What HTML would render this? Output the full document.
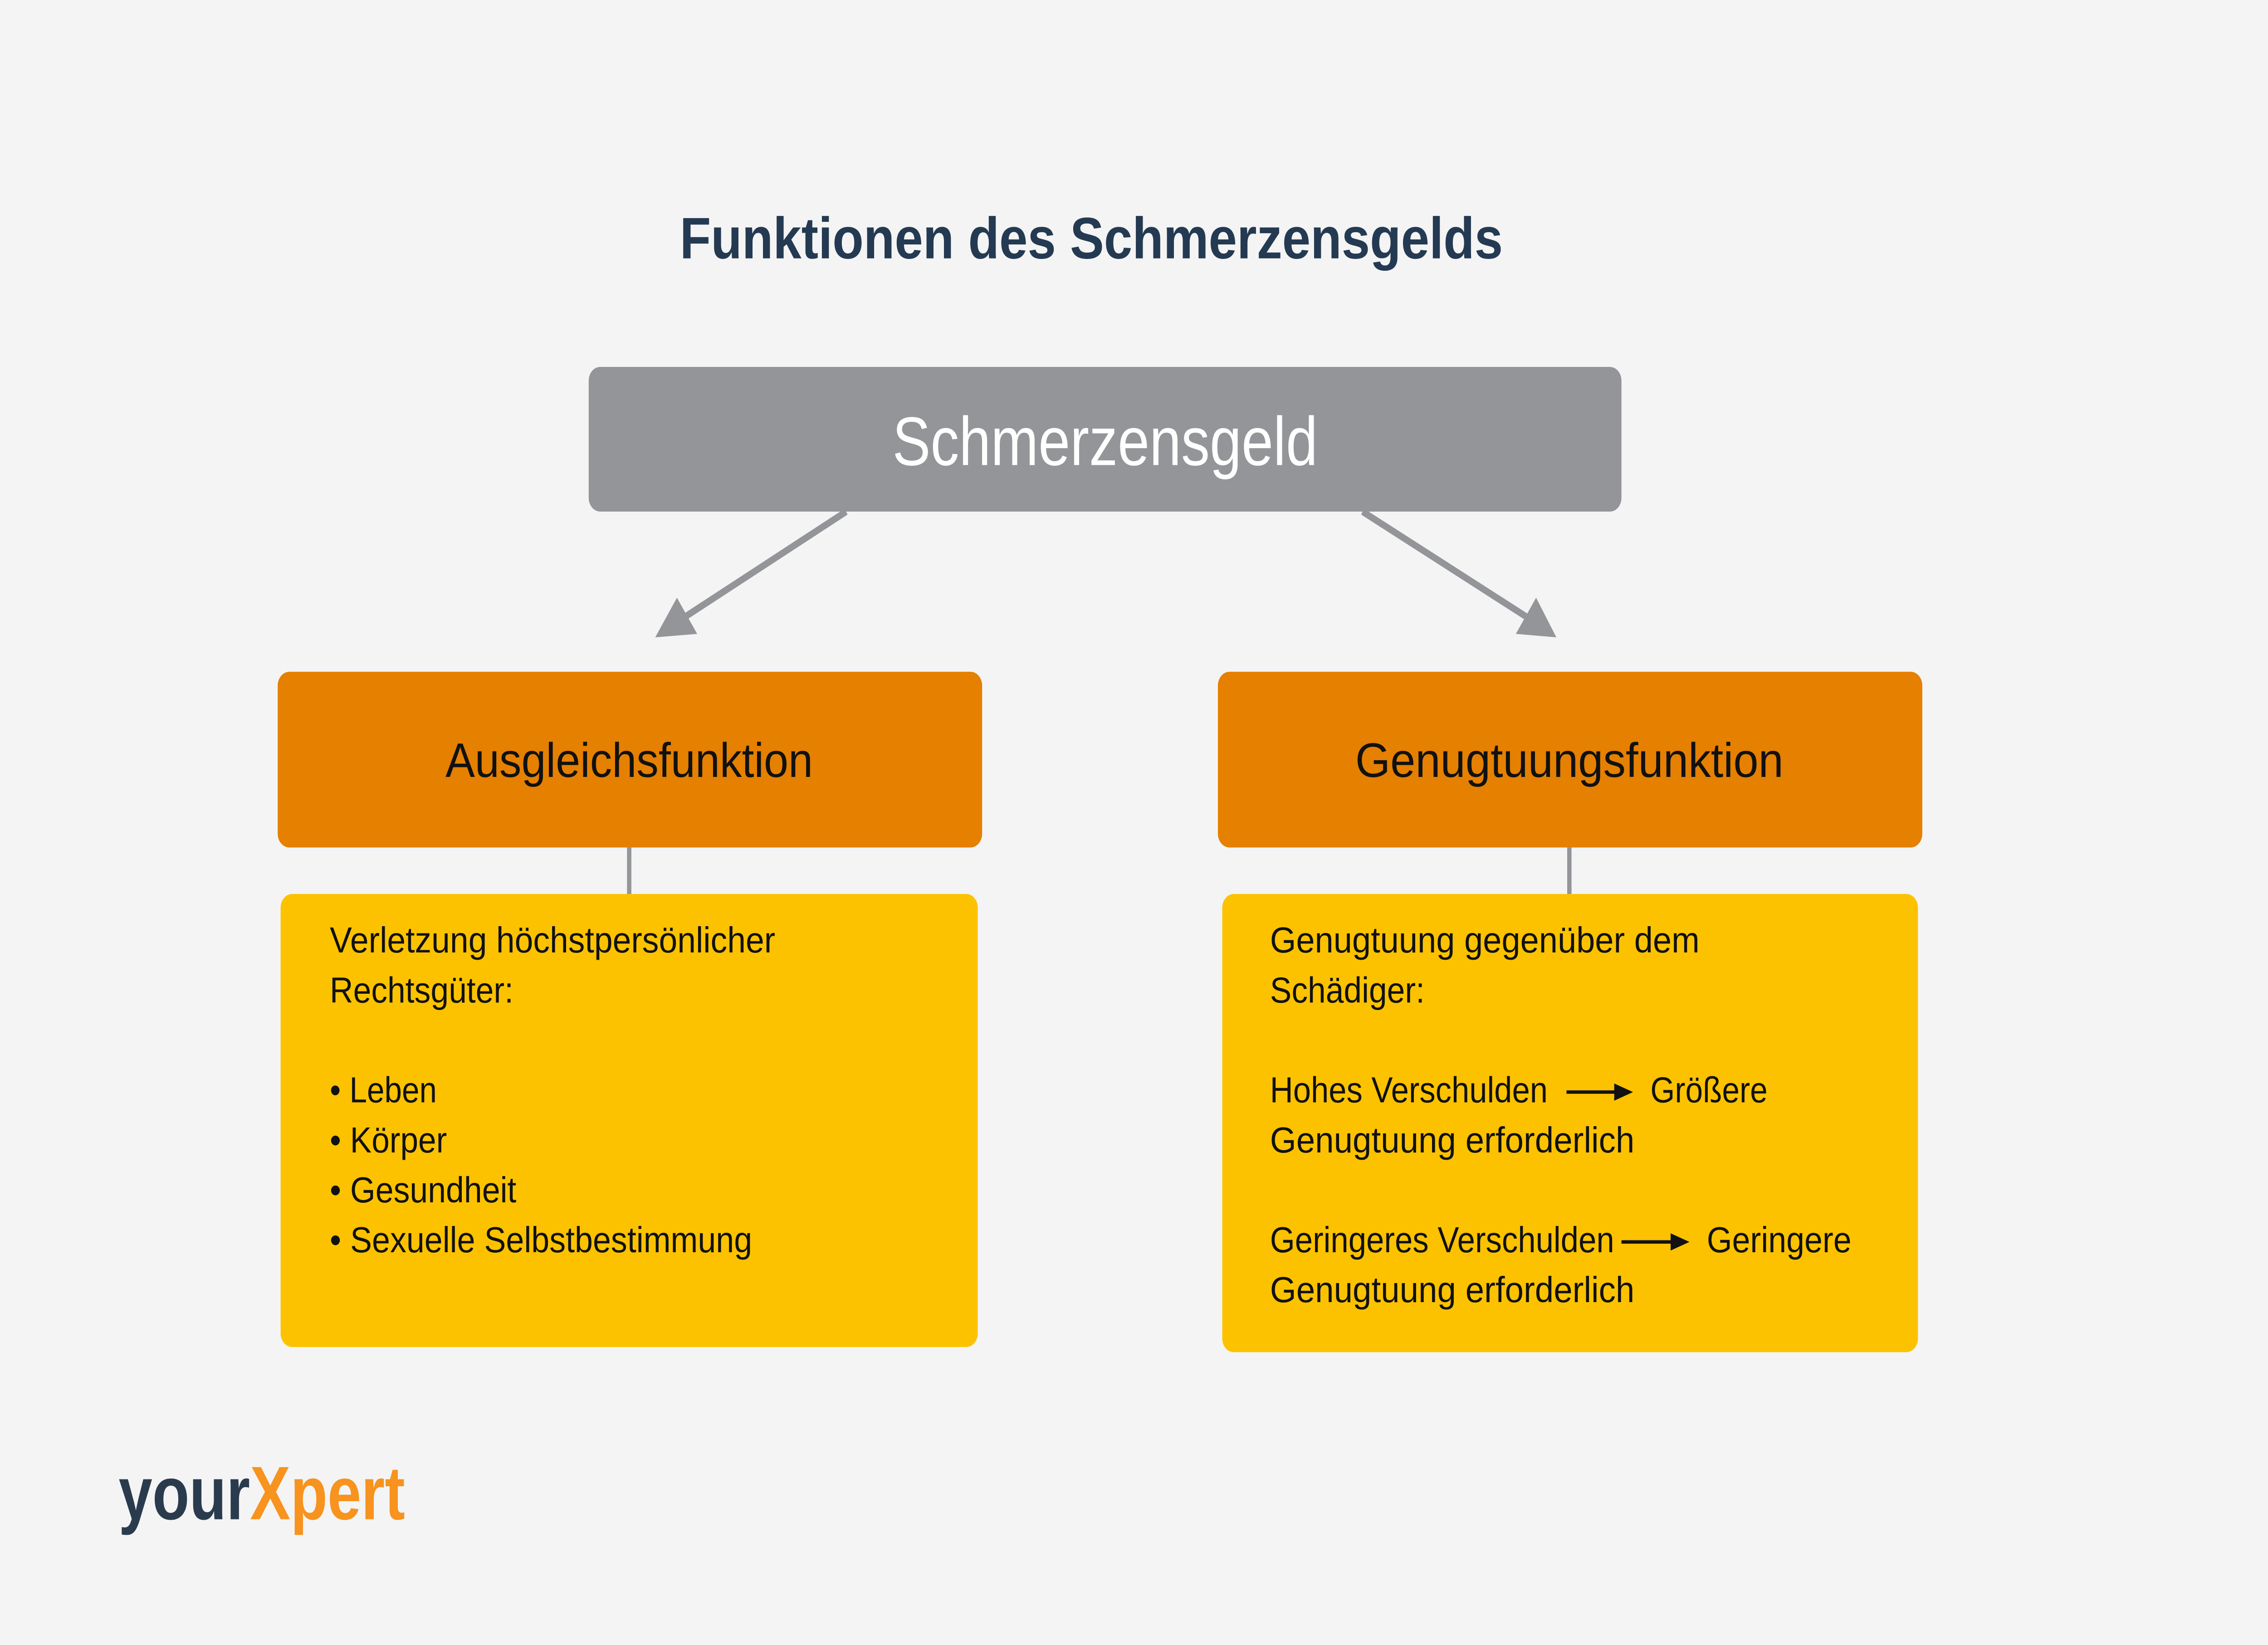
<!DOCTYPE html>
<html><head><meta charset="utf-8"><style>
html,body{margin:0;padding:0;background:#f4f4f4;width:100%;height:100%;overflow:hidden;}
svg{display:block;width:100vw;height:100vh;}
text{font-family:"Liberation Sans",sans-serif;}
</style></head><body>
<svg viewBox="0 0 1568 955" preserveAspectRatio="none" xmlns="http://www.w3.org/2000/svg">
<rect width="1568" height="955" fill="#f4f4f4"/>
<text x="470" y="150" font-size="34" font-weight="bold" fill="#243a52" textLength="569" lengthAdjust="spacingAndGlyphs">Funktionen des Schmerzensgelds</text>
<rect x="407" y="213" width="714" height="84" rx="8" fill="#939598"/>
<text x="617" y="270" font-size="40" fill="#ffffff" textLength="294" lengthAdjust="spacingAndGlyphs">Schmerzensgeld</text>
<line x1="585" y1="297" x2="472" y2="359" stroke="#939598" stroke-width="4"/>
<polygon points="453,370 468,347 482,368" fill="#939598"/>
<line x1="942" y1="297" x2="1057" y2="359" stroke="#939598" stroke-width="4"/>
<polygon points="1076,370 1062,347 1048,368" fill="#939598"/>
<rect x="192" y="390" width="487" height="102" rx="8" fill="#e58000"/>
<rect x="842" y="390" width="487" height="102" rx="8" fill="#e58000"/>
<text x="308" y="451" font-size="28" fill="#111" textLength="254" lengthAdjust="spacingAndGlyphs">Ausgleichsfunktion</text>
<text x="937" y="451" font-size="28" fill="#111" textLength="296" lengthAdjust="spacingAndGlyphs">Genugtuungsfunktion</text>
<line x1="435" y1="492" x2="435" y2="519" stroke="#939598" stroke-width="3"/>
<line x1="1085" y1="492" x2="1085" y2="519" stroke="#939598" stroke-width="3"/>
<rect x="194" y="519" width="482" height="263" rx="8" fill="#fcc200"/>
<rect x="845" y="519" width="481" height="266" rx="8" fill="#fcc200"/>
<g font-size="21" fill="#111">
<text x="228" y="553" textLength="308" lengthAdjust="spacingAndGlyphs">Verletzung höchstpersönlicher</text>
<text x="228" y="582" textLength="127" lengthAdjust="spacingAndGlyphs">Rechtsgüter:</text>
<text x="228" y="640" textLength="74" lengthAdjust="spacingAndGlyphs">• Leben</text>
<text x="228" y="669" textLength="81" lengthAdjust="spacingAndGlyphs">• Körper</text>
<text x="228" y="698" textLength="129" lengthAdjust="spacingAndGlyphs">• Gesundheit</text>
<text x="228" y="727" textLength="292" lengthAdjust="spacingAndGlyphs">• Sexuelle Selbstbestimmung</text>
<text x="878" y="553" textLength="297" lengthAdjust="spacingAndGlyphs">Genugtuung gegenüber dem</text>
<text x="878" y="582" textLength="107" lengthAdjust="spacingAndGlyphs">Schädiger:</text>
<text x="878" y="640" textLength="192" lengthAdjust="spacingAndGlyphs">Hohes Verschulden</text>
<text x="1141" y="640" textLength="81" lengthAdjust="spacingAndGlyphs">Größere</text>
<text x="878" y="669" textLength="252" lengthAdjust="spacingAndGlyphs">Genugtuung erforderlich</text>
<text x="878" y="727" textLength="238" lengthAdjust="spacingAndGlyphs">Geringeres Verschulden</text>
<text x="1180" y="727" textLength="100" lengthAdjust="spacingAndGlyphs">Geringere</text>
<text x="878" y="756" textLength="252" lengthAdjust="spacingAndGlyphs">Genugtuung erforderlich</text>
</g>
<line x1="1083" y1="634" x2="1118" y2="634" stroke="#111" stroke-width="2"/>
<polygon points="1129,634 1116,629 1116,639" fill="#111"/>
<line x1="1121" y1="721" x2="1157" y2="721" stroke="#111" stroke-width="2"/>
<polygon points="1168,721 1155,716 1155,726" fill="#111"/>
<text x="82" y="882" font-size="44" font-weight="bold" textLength="198" lengthAdjust="spacingAndGlyphs"><tspan fill="#2a3b4e">your</tspan><tspan fill="#f7931e">X</tspan><tspan fill="#f7931e">pert</tspan></text>
</svg>
</body></html>
